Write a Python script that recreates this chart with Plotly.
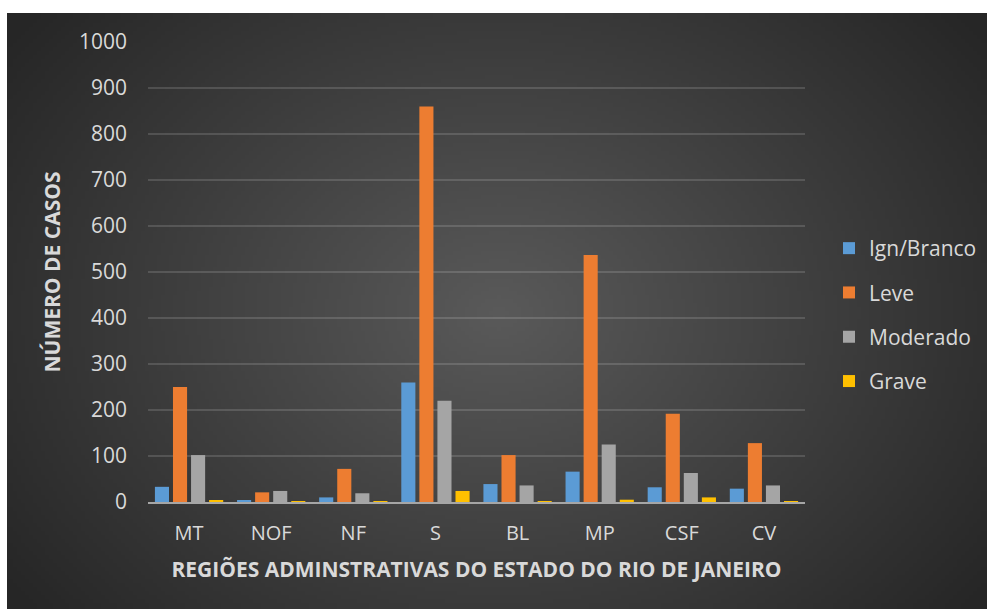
import base64, struct, zlib
import numpy as np
import plotly.graph_objects as go

categories = ["MT", "NOF", "NF", "S", "BL", "MP", "CSF", "CV"]
ign_branco = [33, 4, 10, 260, 39, 66, 32, 29]
leve = [250, 21, 72, 860, 102, 537, 192, 128]
moderado = [102, 24, 19, 220, 36, 125, 63, 36]
grave = [4, 2, 2, 24, 1, 5, 10, 2]
series_names = ["Ign/Branco", "Leve", "Moderado", "Grave"]
series_values = [ign_branco, leve, moderado, grave]
colors = ["#5B9BD5", "#ED7D31", "#A5A5A5", "#FFC000"]
y_ticks = [0, 100, 200, 300, 400, 500, 600, 700, 800, 900, 1000]


def radial_png(w=245, h=149):
    yy, xx = np.mgrid[0:h, 0:w]
    cx, cy = w * 0.50, h * 0.50
    r = np.sqrt(((xx - cx) / (w * 0.62)) ** 2 + ((yy - cy) / (h * 0.80)) ** 2)
    r = np.clip(r, 0, 1)
    inner, outer = 90.0, 38.0
    v = (inner + (outer - inner) * r).astype(np.uint8)
    raw = b"".join(b"\x00" + v[i].tobytes() for i in range(h))

    def chunk(t, d):
        c = struct.pack(">I", len(d)) + t + d
        return c + struct.pack(">I", zlib.crc32(t + d) & 0xFFFFFFFF)

    png = b"\x89PNG\r\n\x1a\n" + chunk(b"IHDR", struct.pack(">IIBBBBB", w, h, 8, 0, 0, 0, 0))
    png += chunk(b"IDAT", zlib.compress(raw, 9)) + chunk(b"IEND", b"")
    return "data:image/png;base64," + base64.b64encode(png).decode()


W, H = 987, 609
fig = go.Figure()
for i, (name, vals, col) in enumerate(zip(series_names, series_values, colors)):
    fig.add_trace(go.Bar(name=name, x=categories, y=vals, marker_color=col,
                         marker_line_width=0, legendgroup=name))

font_family = "Open Sans, Noto Sans, sans-serif"
text_col = "#D9D9D9"
fig.update_layout(
    width=W, height=H,
    margin=dict(l=148, r=182, t=42, b=107, pad=0, autoexpand=False),
    paper_bgcolor="white",
    plot_bgcolor="rgba(0,0,0,0)",
    barmode="group", bargap=0.12, bargroupgap=0.22,
    font=dict(family=font_family, color=text_col, size=20),
    showlegend=True,
    legend=dict(x=(829 - 148) / 657, xanchor="left", y=1 - (315 - 42) / 460, yanchor="middle",
                font=dict(size=21, color=text_col), tracegroupgap=14,
                bgcolor="rgba(0,0,0,0)", itemwidth=30),
    images=[dict(source=radial_png(), xref="paper", yref="paper",
                 x=-(148 - 7) / 657, y=1 + 29 / 460,
                 sizex=980 / 657, sizey=596 / 460,
                 xanchor="left", yanchor="top", sizing="stretch", layer="below")],
    xaxis=dict(showgrid=False, showline=True, linecolor="#A6A6A6", linewidth=2,
               ticks="", ticklabelstandoff=12, tickfont=dict(size=20, color=text_col),
               title=dict(text="<b>REGIÕES ADMINSTRATIVAS DO ESTADO DO RIO DE JANEIRO</b>",
                          font=dict(size=21, color=text_col), standoff=17)),
    yaxis=dict(range=[0, 1000], tickvals=y_ticks, showgrid=True,
               gridcolor="rgba(255,255,255,0.14)", gridwidth=1.5, zeroline=False,
               ticks="", ticklabelstandoff=20, tickfont=dict(size=21, color=text_col),
               title=dict(text="<b>NÚMERO DE CASOS</b>",
                          font=dict(size=21, color=text_col), standoff=12)),
)
fig.write_html("out.html")
